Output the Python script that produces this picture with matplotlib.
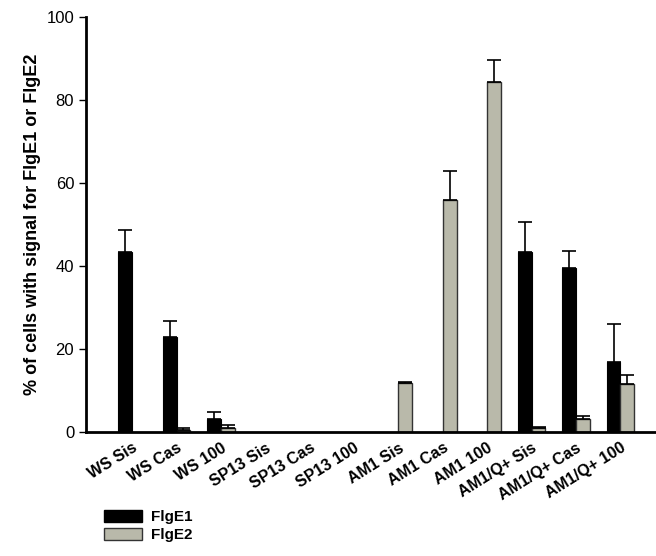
import numpy as np
import matplotlib.pyplot as plt
from matplotlib.patches import Patch

plt.rcParams['font.family'] = ['Liberation Sans', 'DejaVu Sans']

categories = ['WS Sis', 'WS Cas', 'WS 100', 'SP13 Sis', 'SP13 Cas', 'SP13 100',
              'AM1 Sis', 'AM1 Cas', 'AM1 100', 'AM1/Q+ Sis', 'AM1/Q+ Cas', 'AM1/Q+ 100']
flge1 = [43.4, 22.9, 3.1, 0, 0, 0, 0, 0, 0, 43.4, 39.5, 16.9]
flge1_err = [5.3, 3.8, 1.7, 0, 0, 0, 0, 0, 0, 7.2, 4.1, 9.1]
flge2 = [0, 0.6, 1.0, 0, 0, 0, 11.8, 55.9, 84.3, 0.9, 3.1, 11.6]
flge2_err = [0, 0.3, 0.7, 0, 0, 0, 0.2, 7.0, 5.3, 0.3, 0.8, 2.1]

fig = plt.figure(figsize=(6.56, 5.56), dpi=100)
ax = fig.add_axes([0.131, 0.223, 0.869, 0.746])

x = np.arange(len(categories))
w = 0.31
gray = '#b9b9aa'

# black bars only where there is data
m1 = np.array(flge1) > 0
ax.bar(x[m1] - w / 2, np.array(flge1)[m1], w, color='black', edgecolor='black', lw=0.8,
       yerr=[np.zeros(m1.sum()), np.array(flge1_err)[m1]],
       error_kw=dict(ecolor='black', elinewidth=1.2, capsize=5, capthick=1.2))
m2 = np.array(flge2) > 0
ax.bar(x[m2] + w / 2, np.array(flge2)[m2], w, color=gray, edgecolor='#333333', lw=1.0,
       yerr=[np.zeros(m2.sum()), np.array(flge2_err)[m2]],
       error_kw=dict(ecolor='black', elinewidth=1.2, capsize=5, capthick=1.2))

ax.set_xlim(-1.04, 11.8)
ax.set_ylim(0, 100)
ax.set_yticks([0, 20, 40, 60, 80, 100])
ax.set_xticks(x)
ax.set_xticklabels(categories, rotation=32, ha='right', rotation_mode='anchor',
                   fontweight='bold', fontsize=11.5)
ax.tick_params(axis='x', length=0, pad=6)
ax.tick_params(axis='y', labelsize=12, length=5, width=1, direction='out')
for s in ['top', 'right']:
    ax.spines[s].set_visible(False)
for s in ['left', 'bottom']:
    ax.spines[s].set_linewidth(2)
ax.set_ylabel('% of cells with signal for FlgE1 or FlgE2', fontsize=13, fontweight='bold')

handles = [Patch(facecolor='black', edgecolor='black'),
           Patch(facecolor=gray, edgecolor='#333333')]
fig.legend(handles, ['FlgE1', 'FlgE2'], loc='lower left', bbox_to_anchor=(0.137, 0.0),
           frameon=False, prop={'weight': 'bold', 'size': 11},
           handlelength=2.5, handleheight=0.85, labelspacing=0.25, handletextpad=0.6)

fig.savefig('out.png', dpi=100)
